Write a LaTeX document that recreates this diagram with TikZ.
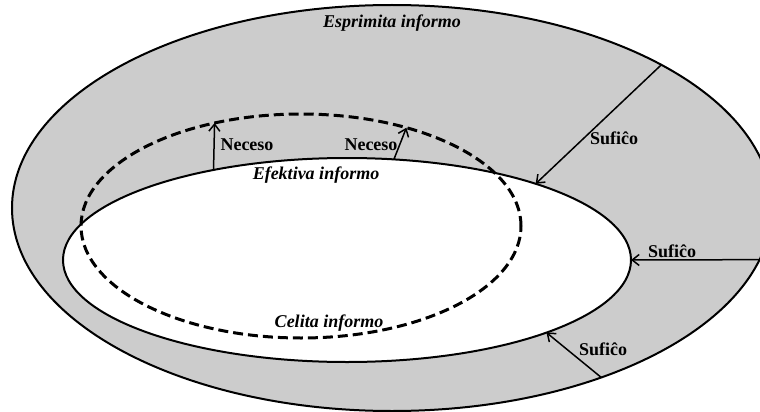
\documentclass[tikz,border=0pt]{standalone}
\usepackage{fontspec}
\setmainfont{Liberation Serif}
\usetikzlibrary{shapes.geometric,arrows.meta}

\tikzset{
  zone/.style={ellipse, draw, line width=2pt, inner sep=0pt, outer sep=0pt},
  need/.style={-{Straight Barb[length=7pt,width=11pt]}, line width=1.5pt},
  lab/.style={font=\fontsize{18}{20}\selectfont\bfseries, inner sep=0pt},
  setname/.style={font=\fontsize{18}{20}\selectfont\bfseries\itshape, inner sep=0pt},
}

\begin{document}
\begin{tikzpicture}[x=1pt,y=-1pt]
\useasboundingbox (0,0) rectangle (760,412);
\clip (0,0) rectangle (760,412);
% the three sets
\node[zone, fill=black!20, minimum width=760, minimum height=406] (esprimita) at (392,208) {};
\node[zone, fill=white, minimum width=568, minimum height=204] (efektiva) at (347,260) {};
\node[zone, line width=3pt, dash pattern=on 10pt off 5pt, minimum width=440, minimum height=224] (celita) at (301,226) {};
% necessary
\draw[need] (efektiva.146) -- (celita.130);
\draw[need] (efektiva.65)  -- (celita.43);
% sufficient
\draw[need] (esprimita.28)  -- (efektiva.22);
\draw[need] (esprimita.-8)  -- (efektiva.0);
\draw[need] (esprimita.-39) -- (efektiva.-20);
% labels
\node[setname] (tesp) at (392,23)  {Esprimita informo};
\node[setname] (tefe) at (316,175) {Efektiva informo};
\node[setname] (tcel) at (329,323) {Celita informo};
\node[lab] (nec1) at (247,145) {Neceso};
\node[lab] (nec2) at (371,145) {Neceso};
\node[lab] (suf1) at (614,138) {Sufiĉo};
\node[lab] (suf2) at (672,251) {Sufiĉo};
\node[lab] (suf3) at (603,349) {Sufiĉo};
\end{tikzpicture}
\end{document}
